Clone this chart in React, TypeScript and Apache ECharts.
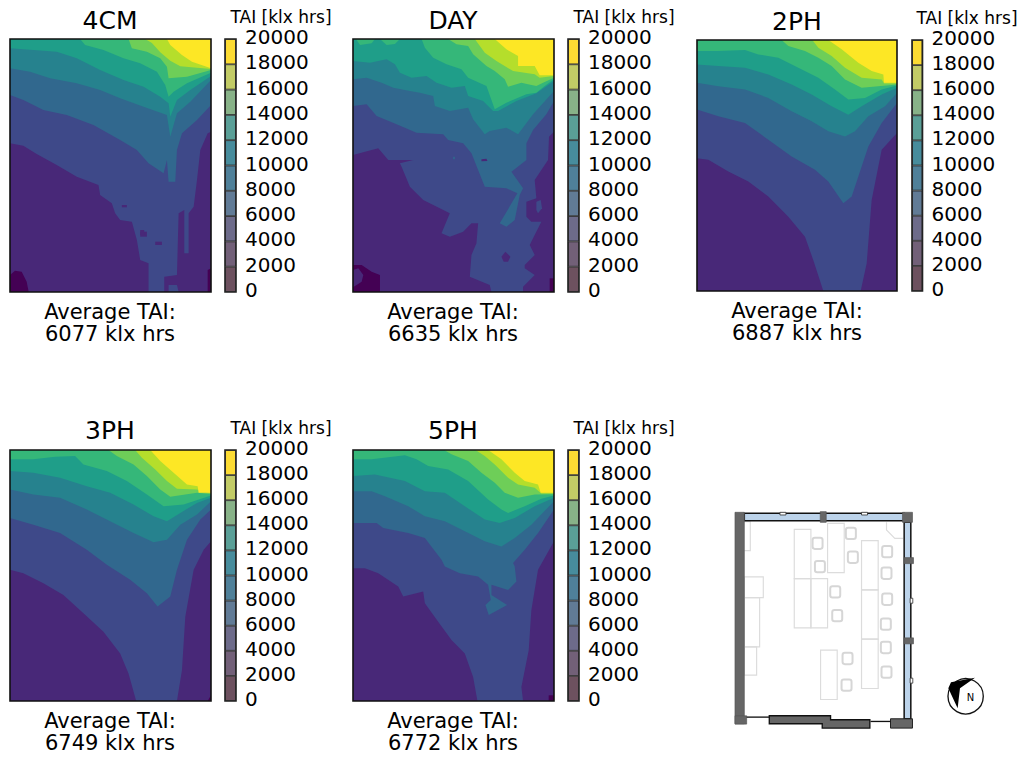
import React, { useEffect, useRef } from "react";
import * as echarts from "echarts";

type Pt = [number, number];

const tickLevels = [0, 2000, 4000, 6000, 8000, 10000, 12000, 14000, 16000, 18000, 20000];
const mapColors = ["#440154", "#482878", "#3e4989", "#31688e", "#26828e", "#1f9e89", "#35b779", "#6ece58", "#b5de2b", "#fde725"];
const barColors = ["#6d515f", "#726078", "#6d6b8a", "#617b96", "#4f8099", "#478c9c", "#5a9f97", "#88b288", "#c2cb66", "#fcdb33"];
const averages = ["6077", "6635", "6887", "6749", "6772"];
const panelNames = ["4CM", "DAY", "2PH", "3PH", "5PH"];

// ---- 4CM contour boundaries
const cm4L2: Pt[] = [[30,430],[70,437],[110,462],[170,495],[230,530],[295,555],[300,585],[335,610],[345,640],[360,660],[395,665],[410,720],[420,780],[445,790],[445,876],[492,876],[492,830],[530,825],[535,640],[552,630],[552,760],[565,760],[565,640],[580,620],[590,540],[600,450],[622,400],[632,395]];
const cm4L3: Pt[] = [[30,285],[70,300],[130,330],[200,345],[280,375],[360,420],[410,450],[445,490],[490,520],[500,480],[505,545],[525,545],[530,450],[545,400],[590,360],[632,315]];
const cm4L4: Pt[] = [[30,205],[90,215],[150,235],[230,250],[300,270],[360,295],[430,320],[500,345],[510,410],[530,340],[570,305],[632,240]];
const cm4L5: Pt[] = [[30,145],[100,150],[170,155],[230,175],[300,210],[370,240],[430,260],[480,290],[505,310],[510,350],[530,300],[570,270],[632,228]];
const cm4L6: Pt[] = [[240,117],[255,135],[310,150],[370,175],[420,190],[470,215],[495,255],[505,290],[520,275],[560,250],[632,218]];
const cm4L7: Pt[] = [[385,117],[395,145],[440,155],[480,175],[500,200],[505,235],[560,230],[632,210]];
const cm4L8: Pt[] = [[435,117],[455,129],[480,157],[510,182],[540,199],[632,207]];
const cm4L9: Pt[] = [[500,117],[510,135],[545,165],[575,185],[632,205]];
const cm4Holes: [number, Pt[]][] = [
  [2, [[505,876],[505,855],[530,855],[535,876]]],
  [1, [[420,695],[440,695],[440,710],[420,710]]],
  [1, [[465,725],[485,725],[485,735],[465,735]]],
  [1, [[365,615],[380,615],[380,622],[365,622]]],
  [1, [[420,690],[432,690],[432,705],[420,705]]],
  [0, [[30,825],[45,812],[65,815],[80,845],[86,876],[30,876]]],
  [0, [[622,810],[632,805],[632,876],[622,876]]],
];

// ---- DAY contour boundaries
const dayL2: Pt[] = [[24,465],[60,455],[100,445],[130,480],[205,480],[165,490],[170,500],[195,560],[235,600],[315,640],[290,700],[315,710],[355,695],[380,670],[400,670],[395,730],[380,765],[375,830],[435,855],[440,876],[535,876],[535,860],[570,825],[540,805],[540,795],[570,765],[555,735],[565,715],[590,665],[560,665],[545,650],[545,605],[575,595],[570,540],[610,480],[613,410],[628,395]];
const dayL3: Pt[] = [[24,318],[65,313],[95,348],[155,373],[215,398],[295,403],[310,420],[355,430],[380,460],[400,510],[420,560],[485,565],[518,580],[465,670],[485,680],[510,660],[525,585],[535,565],[500,515],[545,480],[545,430],[565,390],[605,343],[628,303]];
const dayL4: Pt[] = [[24,238],[65,233],[110,248],[145,263],[195,273],[225,278],[265,288],[270,318],[315,333],[370,323],[385,358],[420,403],[435,393],[485,383],[520,403],[565,343],[628,273]];
const dayL5: Pt[] = [[24,183],[75,188],[125,178],[150,193],[165,218],[200,233],[245,228],[275,248],[320,263],[360,258],[370,288],[415,303],[445,333],[460,333],[515,303],[575,280],[628,243]];
const dayL6: Pt[] = [[230,117],[240,143],[265,173],[305,193],[350,208],[370,233],[425,258],[450,328],[485,308],[545,283],[575,278],[600,258],[628,238]];
const dayL7: Pt[] = [[310,117],[335,133],[370,138],[385,163],[425,198],[450,213],[480,238],[490,260],[530,248],[550,253],[575,258],[595,248],[628,233]];
const dayL8: Pt[] = [[390,117],[420,158],[455,183],[505,213],[570,223],[585,233],[628,228]];
const dayL9: Pt[] = [[450,117],[485,148],[520,168],[520,198],[570,198],[585,226],[628,226]];
const dayHoles: [number, Pt[]][] = [
  [6, [[33,117],[45,135],[80,130],[90,117]]],
  [6, [[105,117],[125,135],[150,132],[165,117]]],
  [2, [[575,605],[588,600],[592,625],[580,640],[575,630]]],
  [1, [[470,770],[482,755],[497,770],[490,785],[477,785]]],
  [1, [[410,478],[425,476],[428,483],[410,484]]],
  [3, [[325,470],[330,470],[330,478],[325,478]]],
  [0, [[24,795],[50,795],[80,815],[105,825],[105,876],[24,876]]],
  [1, [[24,810],[40,805],[55,825],[50,845],[24,862]]],
  [0, [[615,835],[628,835],[628,876],[615,876]]],
];

// ---- 2PH contour boundaries
const ph2L2: Pt[] = [[36,475],[70,480],[130,515],[190,545],[250,590],[310,650],[360,710],[385,780],[415,872],[527,872],[545,790],[560,600],[590,450],[636,400]];
const ph2L3: Pt[] = [[36,330],[100,350],[180,370],[250,420],[320,470],[390,510],[430,545],[475,610],[500,590],[520,530],[550,440],[590,370],[636,310]];
const ph2L4: Pt[] = [[36,250],[100,260],[180,270],[250,295],[320,335],[380,365],[430,395],[480,410],[510,395],[550,350],[600,320],[636,280]];
const ph2L5: Pt[] = [[36,195],[100,200],[180,205],[250,225],[320,255],[380,285],[440,320],[490,345],[530,320],[590,285],[636,265]];
const ph2L6: Pt[] = [[36,155],[100,155],[180,152],[220,165],[280,175],[340,205],[400,235],[450,270],[490,300],[540,295],[590,270],[636,258]];
const ph2L7: Pt[] = [[290,122],[310,140],[360,155],[400,175],[440,200],[480,240],[530,265],[580,260],[636,255]];
const ph2L8: Pt[] = [[382,122],[400,145],[440,170],[480,205],[530,235],[590,240],[597,252],[636,252]];
const ph2L9: Pt[] = [[430,122],[470,150],[520,190],[560,215],[595,225],[597,250],[636,250]];

// ---- 3PH contour boundaries
const ph3L2: Pt[] = [[30,480],[70,490],[130,520],[190,555],[250,610],[310,665],[360,730],[385,790],[408,872],[530,872],[545,780],[555,620],[580,480],[610,420],[632,395]];
const ph3L3: Pt[] = [[30,325],[100,345],[180,370],[260,420],[320,465],[390,510],[440,550],[472,590],[510,560],[530,480],[560,390],[600,330],[632,300]];
const ph3L4: Pt[] = [[30,240],[100,255],[180,265],[260,300],[330,335],[400,370],[460,398],[500,390],[540,345],[590,315],[632,275]];
const ph3L5: Pt[] = [[30,185],[100,190],[180,205],[260,230],[330,250],[400,285],[460,320],[500,335],[540,310],[590,280],[632,265]];
const ph3L6: Pt[] = [[30,150],[100,150],[165,142],[225,140],[250,165],[320,185],[380,215],[440,255],[490,290],[550,285],[632,258]];
const ph3L7: Pt[] = [[325,122],[350,140],[400,165],[440,200],[480,240],[510,262],[590,250],[632,254]];
const ph3L8: Pt[] = [[405,122],[425,145],[465,180],[500,215],[530,238],[590,240],[632,252]];
const ph3L9: Pt[] = [[450,122],[480,155],[520,190],[560,225],[592,230],[595,250],[632,250]];
const ph3Holes: [number, Pt[]][] = [[0, [[622,872],[632,855],[632,872]]]];

// ---- 5PH contour boundaries
const ph5L2: Pt[] = [[24,475],[60,475],[100,490],[160,530],[175,560],[235,545],[240,580],[280,635],[320,690],[360,730],[385,800],[398,872],[535,872],[530,830],[552,720],[560,600],[580,480],[628,395]];
const ph5L3: Pt[] = [[24,340],[95,340],[115,355],[190,370],[240,385],[290,450],[300,470],[345,490],[400,500],[430,525],[438,570],[422,585],[432,615],[487,585],[440,555],[440,525],[490,540],[515,515],[510,470],[505,460],[540,420],[580,370],[628,300]];
const ph5L4: Pt[] = [[24,245],[80,245],[120,260],[190,290],[240,320],[300,335],[360,365],[420,395],[470,410],[510,385],[560,345],[628,275]];
const ph5L5: Pt[] = [[24,200],[90,195],[180,215],[240,245],[300,250],[360,290],[420,330],[465,340],[510,325],[570,290],[628,265]];
const ph5L6: Pt[] = [[24,150],[80,150],[180,138],[215,150],[250,170],[310,180],[370,215],[430,270],[470,300],[490,310],[540,290],[590,268],[628,258]];
const ph5L7: Pt[] = [[298,122],[320,135],[370,155],[410,190],[450,220],[480,250],[520,265],[570,255],[628,254]];
const ph5L8: Pt[] = [[392,122],[420,140],[450,165],[490,205],[520,225],[570,235],[590,252],[628,252]];
const ph5L9: Pt[] = [[430,122],[470,150],[510,190],[540,215],[580,225],[588,250],[628,250]];
const ph5Holes: [number, Pt[]][] = [[0, [[612,855],[628,855],[628,872],[612,872]]]];

const contours: Pt[][][] = [
  [cm4L2, cm4L3, cm4L4, cm4L5, cm4L6, cm4L7, cm4L8, cm4L9],
  [dayL2, dayL3, dayL4, dayL5, dayL6, dayL7, dayL8, dayL9],
  [ph2L2, ph2L3, ph2L4, ph2L5, ph2L6, ph2L7, ph2L8, ph2L9],
  [ph3L2, ph3L3, ph3L4, ph3L5, ph3L6, ph3L7, ph3L8, ph3L9],
  [ph5L2, ph5L3, ph5L4, ph5L5, ph5L6, ph5L7, ph5L8, ph5L9],
];
const holes = [cm4Holes, dayHoles, [], ph3Holes, ph5Holes];

// axis extents of each map (room coordinates): xmin, xmax, ymin, ymax
const extents = [
  [30, 632, 117, 876],
  [24, 628, 117, 876],
  [36, 636, 122, 872],
  [30, 632, 122, 872],
  [24, 628, 122, 872],
];

// layout
const L = [
  { x: 10, y: 39, w: 201, h: 253, bx: 225, by: 39, bw: 11, bh: 253, cx: 110, tx: 281, ty: 17, ny: 20, a1: 312, a2: 334 },
  { x: 353, y: 39, w: 201, h: 253, bx: 568, by: 39, bw: 11, bh: 253, cx: 453, tx: 624, ty: 17, ny: 20, a1: 312, a2: 334 },
  { x: 697, y: 40, w: 200, h: 251, bx: 912, by: 40, bw: 10.5, bh: 251, cx: 797, tx: 967, ty: 18, ny: 21, a1: 311, a2: 333 },
  { x: 10, y: 450, w: 201, h: 251, bx: 225, by: 450, bw: 11, bh: 251, cx: 110, tx: 281, ty: 428, ny: 430, a1: 721, a2: 743 },
  { x: 353, y: 450, w: 201, h: 251, bx: 568, by: 450, bw: 11, bh: 251, cx: 453, tx: 624, ty: 428, ny: 430, a1: 721, a2: 743 },
];

const FONT = '"DejaVu Sans"';

function text(t: string, x: number, y: number, size: number) {
  return {
    type: "text", x, y, z: 50,
    style: { text: t, fill: "#000", font: `${size}px ${FONT}`, textAlign: "center", textVerticalAlign: "middle" },
  };
}
function frame(x: number, y: number, w: number, h: number, color = "#111") {
  return { type: "rect", z: 40, silent: true, shape: { x, y, width: w, height: h }, style: { fill: "none", stroke: color, lineWidth: 1.6 } };
}

// ---- floor plan (drawing, not data)
const GREY = "#666666";
const GLASS = "#bcd3ea";
const FURN = "#dcdcdc";
const wallRects = [[30,37,28,635],[533,37,30,30],[286,35,18,32],[538,173,28,18],[538,414,28,18],[30,648,35,25]];
const glassRects = [[58,40,480,22],[538,67,20,590]];
const markRects = [[165,37,18,8],[410,37,18,8],[556,295,8,15],[556,535,8,15]];
const deskRects = [[208,88,50,148],[208,236,50,148],[258,236,50,148],[308,70,50,148],[410,122,50,148],[410,270,50,148],[410,418,50,148],[287,451,50,148],[58,231,57,62],[58,293,46,148],[58,441,37,85]];
const chairCentres = [[278,130],[285,200],[378,100],[384,172],[331,276],[337,347],[368,476],[365,556],[487,155],[485,220],[487,298],[483,373],[483,443],[485,517]];

function floorPlan() {
  const children: any[] = [];
  deskRects.forEach(([x, y, width, height]) =>
    children.push({ type: "rect", shape: { x, y, width, height }, style: { fill: "none", stroke: FURN, lineWidth: 3.5 } }));
  children.push({ type: "polyline", shape: { points: [[58,65],[76,65],[76,152],[58,152]] }, style: { fill: "none", stroke: FURN, lineWidth: 3.5 } });
  children.push({ type: "polyline", shape: { points: [[485,67],[485,90],[510,115],[535,115]] }, style: { fill: "none", stroke: FURN, lineWidth: 3.5 } });
  chairCentres.forEach(([cx, cy]) =>
    children.push({ type: "rect", shape: { x: cx - 15, y: cy - 17, width: 30, height: 34, r: 7 }, style: { fill: "none", stroke: "#d6d6d6", lineWidth: 6 } }));
  glassRects.forEach(([x, y, width, height]) =>
    children.push({ type: "rect", shape: { x, y, width, height }, style: { fill: GLASS, stroke: "#111", lineWidth: 4.5 } }));
  wallRects.forEach(([x, y, width, height]) =>
    children.push({ type: "rect", shape: { x, y, width, height }, style: { fill: GREY, stroke: "#555", lineWidth: 2 } }));
  markRects.forEach(([x, y, width, height]) =>
    children.push({ type: "rect", shape: { x, y, width, height }, style: { fill: "#fff", stroke: "#333", lineWidth: 2.5 } }));
  children.push({ type: "polygon", shape: { points: [[133,648],[317,648],[317,660],[435,660],[435,685],[292,685],[292,672],[133,672]] }, style: { fill: GREY, stroke: "#111", lineWidth: 4 } });
  children.push({ type: "polygon", shape: { points: [[497,657],[563,657],[563,685],[497,685]] }, style: { fill: GREY, stroke: "#222", lineWidth: 3 } });
  [[65,652,133,652],[437,665,497,665]].forEach(([x1, y1, x2, y2]) =>
    children.push({ type: "line", shape: { x1, y1, x2, y2 }, style: { stroke: "#111", lineWidth: 4 } }));
  return { type: "group", x: 725, y: 500, scaleX: 1 / 3, scaleY: 1 / 3, z: 30, children };
}

function compass() {
  return {
    type: "group", x: 935, y: 665, scaleX: 1 / 3, scaleY: 1 / 3, z: 30,
    children: [
      { type: "circle", shape: { cx: 92, cy: 94, r: 53 }, style: { fill: "#fff", stroke: "#111", lineWidth: 4 } },
      { type: "polygon", shape: { points: [[48,52],[120,38],[75,70],[68,130],[40,70]] }, style: { fill: "#000" } },
    ],
  };
}

export default function App() {
  const ref = useRef<HTMLDivElement>(null);
  useEffect(() => {
    document.body.style.margin = "0";
    const chart = echarts.init(ref.current!, undefined, { renderer: "svg" });
    const grid: any[] = [];
    const xAxis: any[] = [];
    const yAxis: any[] = [];
    const series: any[] = [];
    const graphic: any[] = [floorPlan(), compass(), text("N", 970.5, 697.5, 10)];

    L.forEach((p, i) => {
      const [xmin, xmax, ymin, ymax] = extents[i];
      const gi = grid.length;
      grid.push({ left: p.x, top: p.y, width: p.w, height: p.h });
      xAxis.push({ gridIndex: gi, type: "value", min: xmin, max: xmax, show: false });
      yAxis.push({ gridIndex: gi, type: "value", min: ymin, max: ymax, inverse: true, show: false });

      const top = (pts: Pt[]): Pt[] => [...pts, [xmax, ymin], [xmin, ymin]];
      const shapes: { band: number; pts: Pt[] }[] = [
        { band: 1, pts: top([[xmin, ymax], [xmax, ymax]]) },
        ...contours[i].map((pts, k) => ({ band: k + 2, pts: top(pts) })),
        ...holes[i].map(([band, pts]: [number, Pt[]]) => ({ band, pts })),
      ];
      series.push({
        type: "custom",
        xAxisIndex: gi,
        yAxisIndex: gi,
        silent: true,
        clip: true,
        data: shapes.map((_, k) => [k]),
        encode: { x: -1, y: -1 },
        renderItem: (params: any, api: any) => {
          const s = shapes[params.dataIndex];
          return {
            type: "polygon",
            shape: { points: s.pts.map((q) => api.coord(q)) },
            style: { fill: mapColors[s.band] },
          };
        },
      });

      // colour bar
      const bi = grid.length;
      grid.push({ left: p.bx, top: p.by, width: p.bw, height: p.bh });
      xAxis.push({ gridIndex: bi, type: "category", data: ["TAI"], show: false });
      yAxis.push({
        gridIndex: bi, type: "value", min: 0, max: 20000, interval: 2000, position: "right",
        axisLine: { show: false }, axisTick: { show: false }, splitLine: { show: false },
        axisLabel: {
          show: true, margin: 9, color: "#000", fontSize: 20, fontFamily: FONT,
          formatter: (v: number) => `{a|${v}}`,
          rich: { a: { color: "#000", fontSize: 20, fontFamily: FONT, padding: [0, 0, 4, 0] } },
        },
      });
      barColors.forEach((c, k) => {
        series.push({
          type: "bar", xAxisIndex: bi, yAxisIndex: bi, stack: "cb" + i, barWidth: "100%", silent: true,
          data: [tickLevels[k + 1] - tickLevels[k]],
          itemStyle: { color: c, borderColor: "#222", borderWidth: 0.8 },
        });
      });

      graphic.push(frame(p.x, p.y, p.w, p.h));
      graphic.push(frame(p.bx, p.by, p.bw, p.bh, "#222"));
      graphic.push(text(panelNames[i], p.cx, p.ny, 25));
      graphic.push(text("TAI [klx hrs]", p.tx, p.ty, 17));
      graphic.push(text("Average TAI:", p.cx, p.a1, 21));
      graphic.push(text(`${averages[i]} klx hrs`, p.cx, p.a2, 21));
    });

    chart.setOption({ animation: false, grid, xAxis, yAxis, series, graphic: { elements: graphic } });
    return () => chart.dispose();
  }, []);
  return <div ref={ref} style={{ position: "absolute", left: 0, top: 0, width: 1021, height: 758 }} />;
}
